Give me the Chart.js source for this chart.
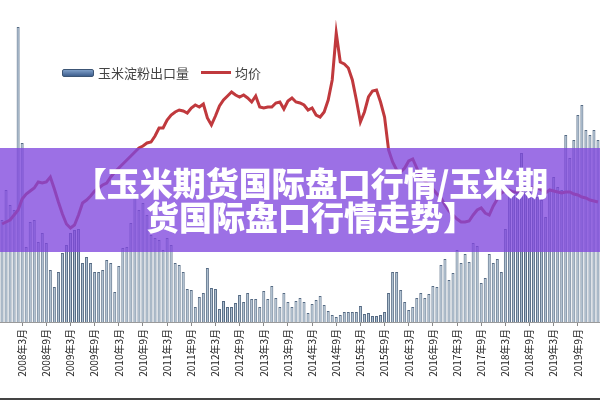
<!DOCTYPE html>
<html>
<head>
<meta charset="utf-8">
<script src="https://cdn.jsdelivr.net/npm/chart.js@4/dist/chart.umd.min.js"></script>
<style>
    html, body { margin: 0; padding: 0; background: #fff; }
    #wrap { position: relative; width: 600px; height: 400px; overflow: hidden; }
    #chart { position: absolute; left: 0; top: 0; }
    .legend { position: absolute; top: 63px; left: 62px; font: 13px "Noto Sans CJK SC", sans-serif; color: #444; display: flex; align-items: center; }
    .legend .box { width: 30px; height: 6px; background: linear-gradient(#7f9fc8, #3e5f8e); border: 1px solid #3c5575; border-radius: 2px; margin-right: 4px; }
    .legend .ln { width: 30px; height: 3px; background: #c0393d; margin: 0 4px 0 12px; }
    .banner { position: absolute; left: 0; top: 148px; width: 600px; height: 104px; background: rgba(128, 72, 222, 0.78);
        color: #fff; font: 900 33px/34px "Noto Sans CJK SC", sans-serif; text-align: center; padding-top: 17px; box-sizing: border-box; padding-left: 22px; }
    .bottom { position: absolute; left: 0; bottom: 0; width: 600px; height: 2px; background: #444; }
</style>
</head>
<body>
<div id="wrap">
    <canvas id="chart" width="600" height="400"></canvas>
    <div class="legend"><span class="box"></span>玉米淀粉出口量<span class="ln"></span>均价</div>
    <div class="banner">【玉米期货国际盘口行情/玉米期<br>货国际盘口行情走势】</div>
    <div class="bottom"></div>
</div>
<script>
// 月份: 2007年10月 - 2020年2月
const startYear = 2007, startMonth = 10, monthCount = 149;
const labels = [];
for (let i = 0; i < monthCount; i++) {
    const m = startMonth - 1 + i;
    labels.push((startYear + Math.floor(m / 12)) + "年" + (m % 12 + 1) + "月");
}

// 玉米淀粉出口量 (百吨)
const exportVol = [
    102, 132, 117, 112, 295, 179, 75, 100, 102, 80, 89, 79, 52, 35, 50, 69, 77, 89, 92, 93,
    59, 65, 59, 50, 50, 52, 62, 59, 30, 56, 74, 75, 99, 125, 112, 119, 107, 87, 84, 82,
    72, 84, 77, 59, 57, 50, 33, 32, 15, 25, 29, 54, 34, 33, 13, 21, 15, 15, 19, 27,
    20, 29, 23, 23, 15, 31, 23, 36, 24, 15, 29, 20, 15, 21, 24, 20, 9, 18, 22, 26,
    17, 11, 7, 5, 7, 10, 10, 10, 10, 16, 8, 9, 6, 6, 7, 10, 29, 50, 50, 32,
    20, 12, 15, 24, 29, 24, 28, 36, 35, 57, 63, 42, 49, 72, 59, 68, 60, 79, 76, 39,
    44, 68, 59, 63, 50, 93, 129, 127, 129, 169, 139, 135, 129, 125, 122, 105, 132, 145, 135, 132,
    187, 164, 182, 207, 217, 192, 187, 192, 182
];

// 均价 (元/吨)
const avgPrice = [
    1980, 2000, 2020, 2070, 2120, 2230, 2280, 2310, 2340, 2400, 2390, 2400, 2450, 2330, 2200, 2080, 1980, 1940, 1970, 2070,
    2190, 2220, 2260, 2310, 2340, 2370, 2390, 2450, 2500, 2540, 2580, 2620, 2660, 2700, 2740, 2760, 2790, 2800, 2860, 2940,
    2940, 3020, 3070, 3100, 3120, 3110, 3090, 3140, 3170, 3150, 3180, 3040, 2970, 3060, 3160, 3220, 3260, 3300, 3270, 3250,
    3270, 3240, 3200, 3260, 3150, 3140, 3150, 3150, 3190, 3200, 3130, 3210, 3240, 3200, 3190, 3170, 3120, 3140, 3070, 3050,
    3100, 3220, 3420, 3890, 3600, 3580, 3540, 3420, 3220, 3000, 3100, 3250, 3310, 3320, 3200, 3050, 2720, 2600, 2520, 2500,
    2540, 2610, 2630, 2540, 2450, 2410, 2370, 2330, 2280, 2240, 2170, 2110, 2070, 2030, 2000, 2000, 2010, 2070, 2120, 2140,
    2090, 2070, 2160, 2230, 2290, 2310, 2320, 2300, 2300, 2320, 2330, 2340, 2340, 2340, 2320, 2290, 2320, 2310, 2300, 2290,
    2300, 2300, 2280, 2270, 2250, 2240, 2220, 2210, 2200
];

const ctx = document.getElementById('chart').getContext('2d');

const barFill = ctx.createLinearGradient(0, 0, 0, 322);
barFill.addColorStop(0, '#8fa6bf');
barFill.addColorStop(1, '#a9bccd');

new Chart(ctx, {
    type: 'bar',
    data: {
        labels: labels,
        datasets: [
            {
                type: 'line',
                label: '均价',
                data: avgPrice,
                yAxisID: 'y2',
                borderColor: '#c0393d',
                borderWidth: 3,
                pointRadius: 0,
                tension: 0,
                order: 0
            },
            {
                label: '玉米淀粉出口量',
                data: exportVol,
                yAxisID: 'y',
                backgroundColor: barFill,
                borderColor: '#566b84',
                borderWidth: 1,
                barPercentage: 0.75,
                categoryPercentage: 1,
                order: 1
            }
        ]
    },
    options: {
        responsive: false,
        animation: false,
        layout: { padding: 0 },
        plugins: { legend: { display: false }, tooltip: { enabled: false } },
        scales: {
            x: {
                offset: true,
                afterFit: function (scale) { scale.height = 78; },
                border: { display: true, color: '#9a9a9a' },
                grid: { drawOnChartArea: false, drawTicks: true, tickLength: 4, offset: false, color: '#8a8a8a' },
                ticks: {
                    autoSkip: false,
                    maxRotation: 90,
                    minRotation: 90,
                    padding: 3,
                    color: '#222',
                    font: { family: '"Noto Sans CJK SC", sans-serif', size: 10 },
                    callback: function (value) {
                        const l = this.getLabelForValue(value);
                        return (l.endsWith('年3月') || l.endsWith('年9月')) ? l : null;
                    }
                }
            },
            y: { display: false, min: 0, max: 322 },
            y2: { display: false, min: 1000, max: 4220 }
        }
    }
});
</script>
</body>
</html>
